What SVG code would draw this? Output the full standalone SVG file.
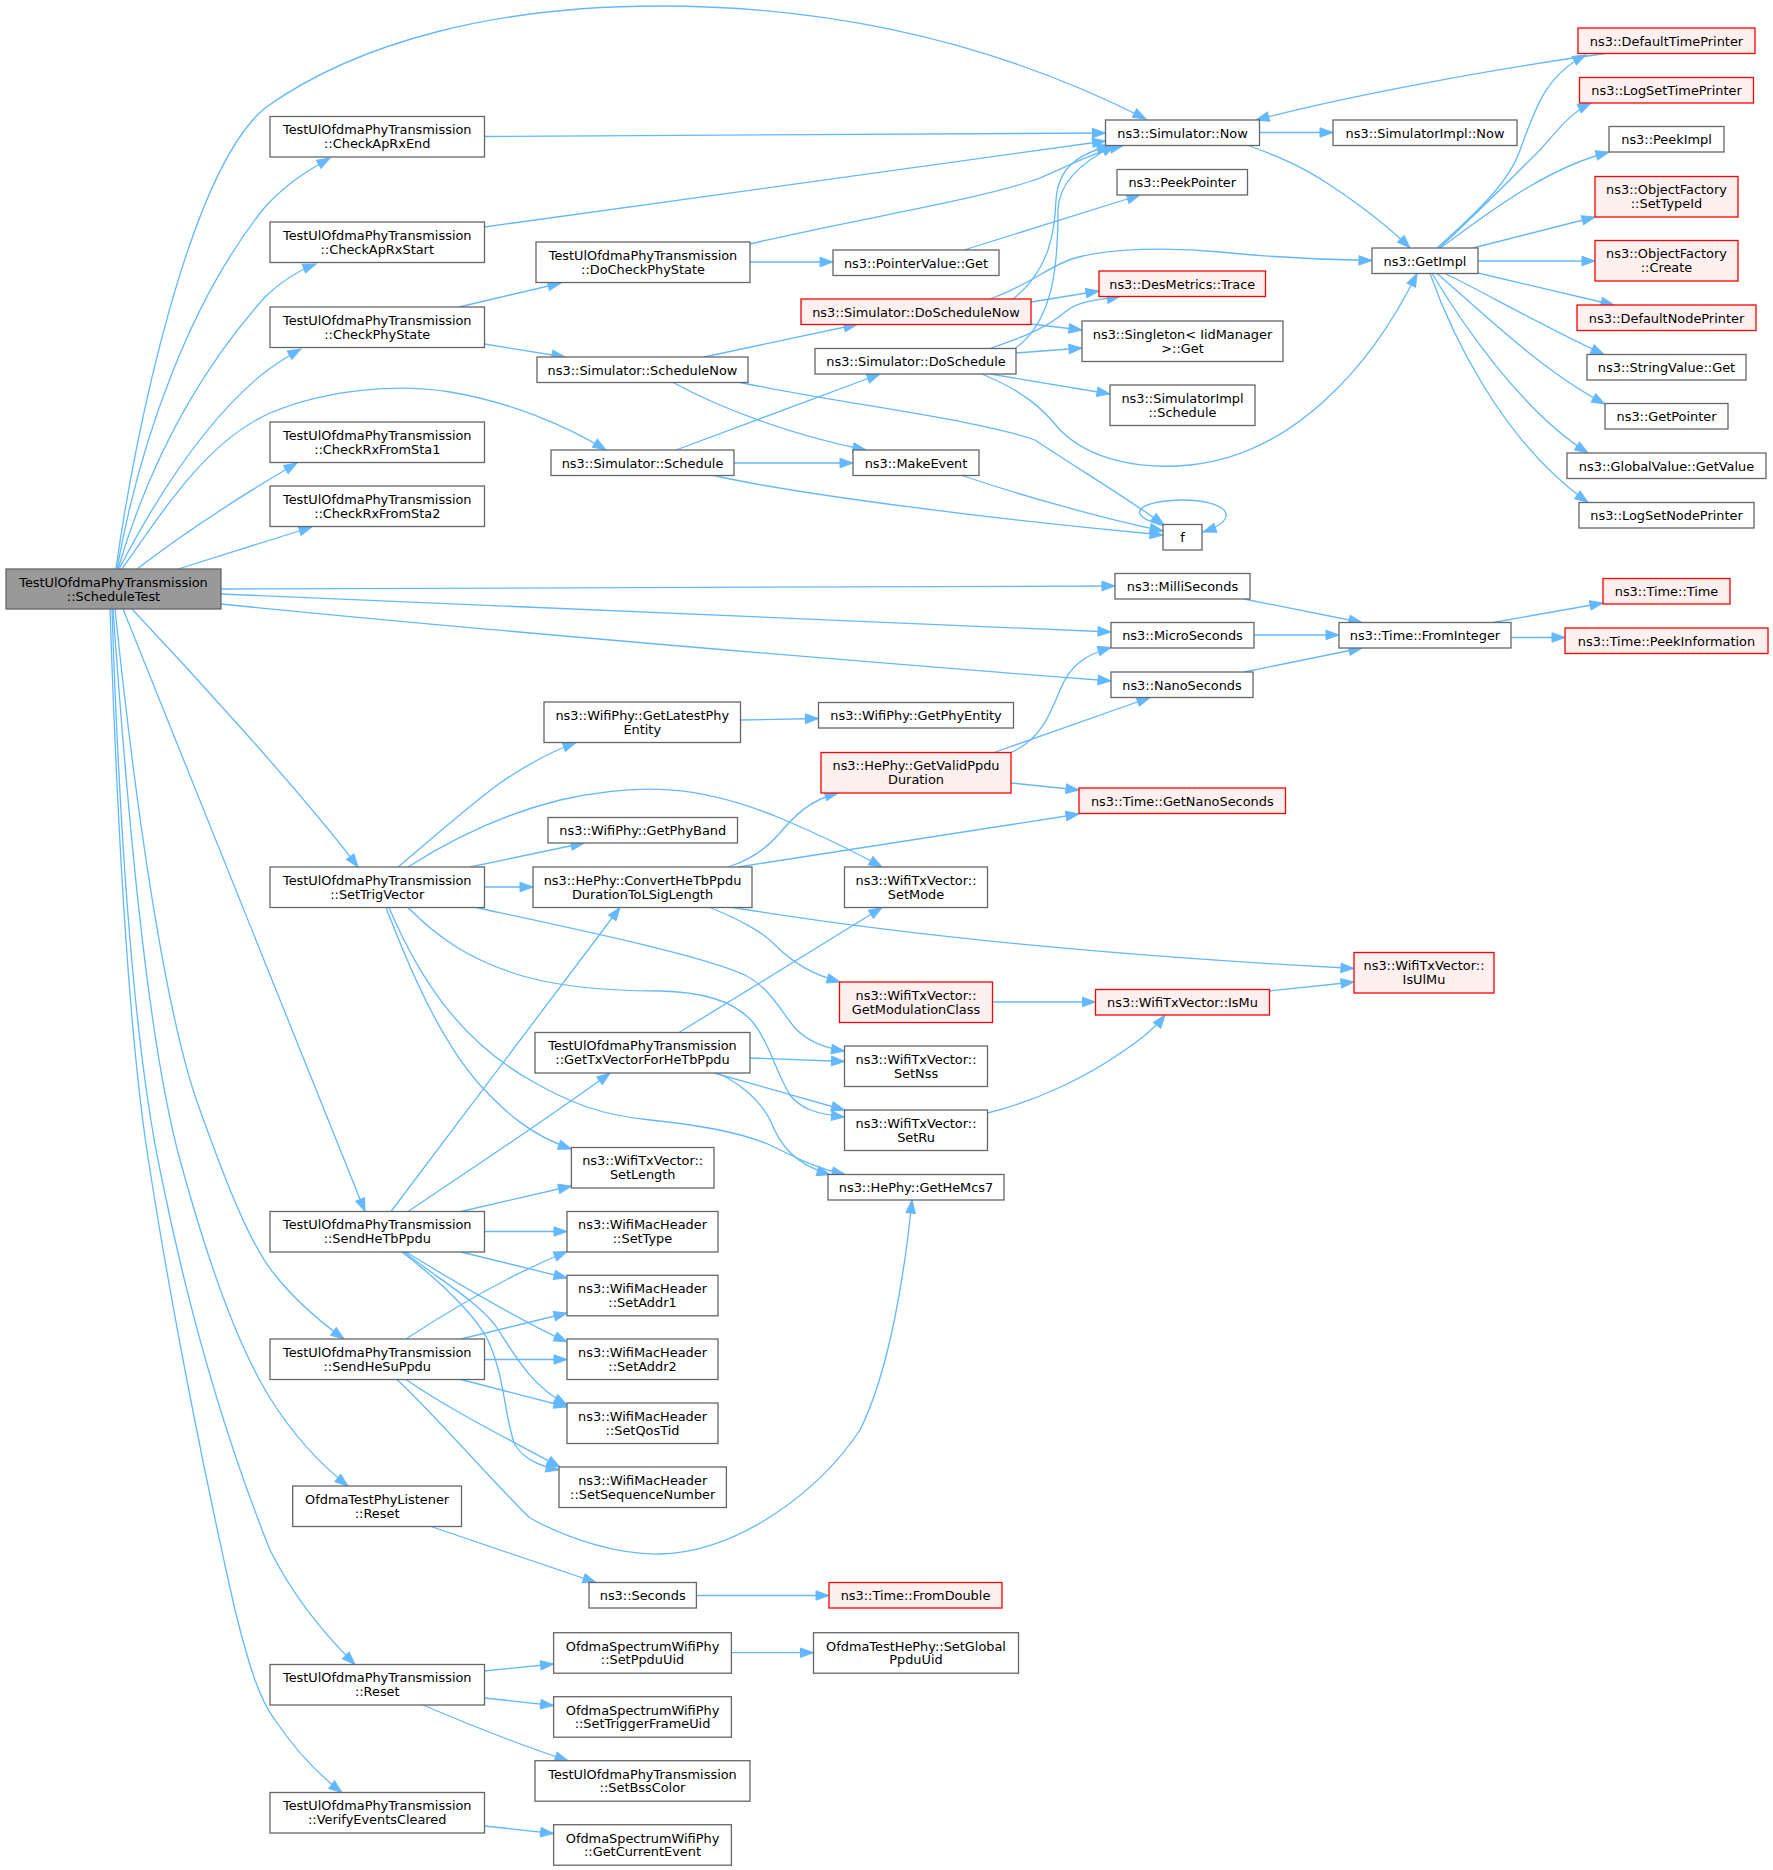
<svg xmlns="http://www.w3.org/2000/svg" width="1773" height="1870" viewBox="0 0 1773 1870">
<style>
.n rect{fill:#ffffff;stroke:#666666;stroke-width:1.3}
.r rect{fill:#fff0f0;stroke:#ff0000;stroke-width:1.3}
.root rect{fill:#999999;stroke:#666666;stroke-width:1.3}
text{font-family:"DejaVu Sans","Liberation Sans",sans-serif;font-size:12.9px;text-anchor:middle;fill:#000000}
#edges path{fill:none;stroke:#63b8ff;stroke-width:1.3;marker-end:url(#a)}
</style>
<defs>
<marker id="a" markerUnits="userSpaceOnUse" markerWidth="14" markerHeight="10" refX="13" refY="4.7" orient="auto" overflow="visible">
<path d="M0,0 L13,4.7 L0,9.4 z" fill="#63b8ff" stroke="#63b8ff" stroke-width="1"/>
</marker>
</defs>
<rect width="1773" height="1870" fill="#ffffff"/>
<g id="edges">
<path d="M116,569 C135,430 190,170 265,108 C360,40 500,6 660,6 C850,6 1010,50 1146,119"/>
<path d="M117,569 C140,440 190,300 265,207 C285,185 305,172 330,158"/>
<path d="M118,569 C150,460 200,370 265,297 C280,282 295,272 316,264"/>
<path d="M119,569 C155,500 205,420 265,372 C276,364 288,356 301,349"/>
<path d="M122,569 C170,500 210,440 270,413 C330,388 400,384 450,392 C510,402 565,425 606,450"/>
<path d="M137,569 C175,540 225,505 297,463"/>
<path d="M178,569 L312,527"/>
<path d="M221,589 L1115,586"/>
<path d="M221,594 L1111,632"/>
<path d="M221,604 C500,632 900,665 1111,681"/>
<path d="M132,609 C180,660 300,790 358,867"/>
<path d="M123,609 L365,1211.5"/>
<path d="M115,609 C140,850 170,1030 200,1110 C225,1180 250,1245 275,1275 C295,1300 315,1318 344,1339"/>
<path d="M113,609 C130,850 150,1050 180,1160 C210,1270 240,1350 270,1398 C290,1430 315,1460 348,1486"/>
<path d="M112,609 C120,850 135,1050 160,1170 C190,1320 230,1450 270,1550 C290,1590 320,1630 355,1664.5"/>
<path d="M110,609 C118,850 130,1050 150,1170 C175,1330 210,1500 235,1610 C250,1670 260,1700 275,1720 C292,1745 315,1772 342,1792.5"/>
<path d="M484.5,136.5 L1105.5,133"/>
<path d="M484.5,227 L1105.5,141"/>
<path d="M459,307 L561,283"/>
<path d="M484.5,344 L565,357"/>
<path d="M750,244 C850,220 980,200 1040,178 C1070,165 1095,152 1123,145.5"/>
<path d="M750,262 L833,262"/>
<path d="M964,250 L1140,195"/>
<path d="M704,357 L857,324.5"/>
<path d="M673,382.5 C720,408 790,435 866,450"/>
<path d="M740,382.5 C850,405 980,420 1035,440 C1080,470 1130,500 1164,525"/>
<path d="M676,450 L880,374"/>
<path d="M734,463 L853,463"/>
<path d="M714,475.5 C800,495 1000,520 1163,535"/>
<path d="M962,475.5 C1020,495 1100,518 1163,531"/>
<path d="M1165,526 C1120,515 1140,500 1183,500 C1225,500 1245,518 1203,532"/>
<path d="M1013,299 C1050,270 1055,230 1056,200 C1058,170 1075,155 1110,145.5"/>
<path d="M1015,348.5 C1055,320 1058,260 1058,210 C1059,180 1085,160 1115,145.5"/>
<path d="M990,299 C1030,285 1050,265 1075,258 C1110,248 1170,247 1220,252 C1280,258 1330,260 1372,260.5"/>
<path d="M1031,302 L1099,291"/>
<path d="M1031,324 L1082,330"/>
<path d="M990,348.5 C1030,335 1050,325 1065,312 C1080,300 1100,300 1120,296.5"/>
<path d="M1016,353 L1082,348"/>
<path d="M990,374 L1110,394"/>
<path d="M982,374 C1020,390 1040,405 1060,430 C1090,460 1140,470 1190,465 C1290,455 1370,370 1417,273.5"/>
<path d="M1259,132.5 L1333,132.5"/>
<path d="M1248,145.5 C1275,155 1300,165 1330,185 C1360,205 1390,228 1410,248"/>
<path d="M1605,53.5 C1500,68 1350,95 1256,120"/>
<path d="M1437,248 C1480,210 1510,180 1520,150 C1535,110 1545,75 1586,55"/>
<path d="M1439,248 C1470,220 1510,180 1540,150 C1560,127 1572,112 1591,103"/>
<path d="M1440,248 C1480,220 1540,170 1609,152"/>
<path d="M1473,248 L1595,217"/>
<path d="M1478,261 L1595,261"/>
<path d="M1478,273 L1614,305"/>
<path d="M1445,273.5 C1480,290 1540,325 1604,354.5"/>
<path d="M1437,273.5 C1480,310 1540,370 1605,404"/>
<path d="M1432,273.5 C1460,320 1520,410 1588,453"/>
<path d="M1430,273.5 C1450,330 1500,440 1588,502.5"/>
<path d="M1244,599 L1362,622.5"/>
<path d="M1254,635 L1339,635"/>
<path d="M1244,672 L1362,648"/>
<path d="M1493,622.5 L1603,603"/>
<path d="M1511,637.5 L1565,637.5"/>
<path d="M398,867 C430,840 470,805 500,783 C525,766 550,752 576,742.5"/>
<path d="M408,867 C450,840 500,815 560,800 C640,782 700,785 780,818 C820,835 855,852 882,867"/>
<path d="M470,867 L584,843"/>
<path d="M484.5,887 L533,887"/>
<path d="M476,907.5 C580,930 700,955 745,975 C770,988 780,1010 795,1028 C808,1042 825,1048 844.5,1051"/>
<path d="M408,907.5 C440,940 470,958 510,972 C550,986 600,991 660,991 C710,992 740,1005 755,1025 C770,1045 775,1070 790,1095 C800,1108 815,1114 844.5,1117"/>
<path d="M386,907.5 C410,970 440,1040 480,1085 C505,1112 530,1135 571.4,1149"/>
<path d="M389,907.5 C420,980 460,1040 530,1080 C570,1103 600,1115 650,1120 C700,1125 740,1132 770,1145 C795,1157 815,1168 845,1174.5"/>
<path d="M728,867 C750,860 765,850 778,835 C795,815 810,800 838,793"/>
<path d="M738,867 L1079,814"/>
<path d="M710,907.5 C740,920 760,930 775,945 C795,965 815,975 840,982"/>
<path d="M733,907.5 C900,935 1100,955 1354,968.5"/>
<path d="M1011,752.5 C1040,740 1050,715 1060,690 C1070,665 1085,655 1111,647.5"/>
<path d="M994,752.5 L1150,697.5"/>
<path d="M1011,783 L1079,790"/>
<path d="M992,1002 L1095.5,1002"/>
<path d="M1269.5,991 L1354,982"/>
<path d="M987.5,1113 C1040,1100 1090,1075 1125,1050 C1140,1040 1155,1028 1165,1015"/>
<path d="M679,1032.5 L882,907.5"/>
<path d="M750,1058 L844.5,1061.5"/>
<path d="M714,1073 L844.5,1110"/>
<path d="M717,1073 C740,1083 760,1100 770,1120 C780,1145 795,1165 830,1174.5"/>
<path d="M740.5,720 L818.5,718.5"/>
<path d="M391,1211.5 L620,907.5"/>
<path d="M408,1211.5 C470,1170 560,1110 610,1073"/>
<path d="M461,1211.5 L571.4,1186"/>
<path d="M484.5,1231.5 L567,1231.5"/>
<path d="M461,1252 L567,1278"/>
<path d="M406,1252 C460,1285 520,1320 567,1342"/>
<path d="M404,1252 C440,1280 475,1300 495,1325 C515,1355 530,1385 567,1405"/>
<path d="M402,1252 C445,1285 480,1320 490,1345 C505,1380 505,1420 515,1445 C525,1460 540,1466 559,1470"/>
<path d="M406,1339 C450,1310 510,1275 567,1251.5"/>
<path d="M461,1339 L567,1313"/>
<path d="M484.5,1359.5 L567,1359.5"/>
<path d="M461,1379.5 L567,1407"/>
<path d="M406,1379.5 C450,1410 510,1440 560,1467"/>
<path d="M397,1379.5 C440,1420 500,1490 530,1518 C570,1540 620,1555 660,1554 C740,1552 820,1490 860,1430 C890,1370 905,1270 912,1200"/>
<path d="M431,1526.5 L596,1582.5"/>
<path d="M696.4,1595.5 L829,1595.5"/>
<path d="M484.5,1671 L553.6,1664"/>
<path d="M484.5,1698 L553.6,1705.5"/>
<path d="M423,1705 C470,1725 520,1745 568,1760.7"/>
<path d="M731.4,1652.7 L813.5,1652.7"/>
<path d="M484.5,1826 L553.6,1833.5"/>
</g>
<g id="nodes">
<g id="n_root" class="root"><rect x="6" y="569" width="215" height="40"/><text x="113.5" y="586.8">TestUlOfdmaPhyTransmission</text><text x="113.5" y="600.7">::ScheduleTest</text></g>
<g id="n_checkaprxend" class="n"><rect x="270" y="116.5" width="214.5" height="40.5"/><text x="377.25" y="134.3">TestUlOfdmaPhyTransmission</text><text x="377.25" y="148.2">::CheckApRxEnd</text></g>
<g id="n_checkaprxstart" class="n"><rect x="270" y="222" width="214.5" height="40.5"/><text x="377.25" y="239.8">TestUlOfdmaPhyTransmission</text><text x="377.25" y="253.7">::CheckApRxStart</text></g>
<g id="n_checkphystate" class="n"><rect x="270" y="307" width="214.5" height="40.5"/><text x="377.25" y="324.8">TestUlOfdmaPhyTransmission</text><text x="377.25" y="338.7">::CheckPhyState</text></g>
<g id="n_checkrx1" class="n"><rect x="270" y="422" width="214.5" height="40.5"/><text x="377.25" y="439.8">TestUlOfdmaPhyTransmission</text><text x="377.25" y="453.7">::CheckRxFromSta1</text></g>
<g id="n_checkrx2" class="n"><rect x="270" y="486" width="214.5" height="40.5"/><text x="377.25" y="503.8">TestUlOfdmaPhyTransmission</text><text x="377.25" y="517.7">::CheckRxFromSta2</text></g>
<g id="n_settrigvector" class="n"><rect x="270" y="867" width="214.5" height="40.5"/><text x="377.25" y="884.8">TestUlOfdmaPhyTransmission</text><text x="377.25" y="898.7">::SetTrigVector</text></g>
<g id="n_sendhetb" class="n"><rect x="270" y="1211.5" width="214.5" height="40.5"/><text x="377.25" y="1229.3">TestUlOfdmaPhyTransmission</text><text x="377.25" y="1243.2">::SendHeTbPpdu</text></g>
<g id="n_sendhesu" class="n"><rect x="270" y="1339" width="214.5" height="40.5"/><text x="377.25" y="1356.8">TestUlOfdmaPhyTransmission</text><text x="377.25" y="1370.7">::SendHeSuPpdu</text></g>
<g id="n_listenerreset" class="n"><rect x="292.7" y="1486" width="168.8" height="40.5"/><text x="377.1" y="1503.8">OfdmaTestPhyListener</text><text x="377.1" y="1517.7">::Reset</text></g>
<g id="n_reset" class="n"><rect x="270" y="1664.5" width="214.5" height="40.5"/><text x="377.25" y="1682.3">TestUlOfdmaPhyTransmission</text><text x="377.25" y="1696.2">::Reset</text></g>
<g id="n_verify" class="n"><rect x="270" y="1792.5" width="214.5" height="40.5"/><text x="377.25" y="1810.3">TestUlOfdmaPhyTransmission</text><text x="377.25" y="1824.2">::VerifyEventsCleared</text></g>
<g id="n_docheckphystate" class="n"><rect x="536" y="242" width="214" height="40.5"/><text x="643" y="259.8">TestUlOfdmaPhyTransmission</text><text x="643" y="273.7">::DoCheckPhyState</text></g>
<g id="n_schedulenow" class="n"><rect x="537" y="357" width="211" height="25.5"/><text x="642.5" y="374.5">ns3::Simulator::ScheduleNow</text></g>
<g id="n_schedule" class="n"><rect x="551" y="450" width="183" height="25.5"/><text x="642.5" y="467.5">ns3::Simulator::Schedule</text></g>
<g id="n_getlatestphyentity" class="n"><rect x="544" y="702" width="196.5" height="40.5"/><text x="642.25" y="719.8">ns3::WifiPhy::GetLatestPhy</text><text x="642.25" y="733.7">Entity</text></g>
<g id="n_getphyband" class="n"><rect x="548" y="817.5" width="189.5" height="25.5"/><text x="642.75" y="835">ns3::WifiPhy::GetPhyBand</text></g>
<g id="n_convert" class="n"><rect x="533" y="867" width="219" height="40.5"/><text x="642.5" y="884.8">ns3::HePhy::ConvertHeTbPpdu</text><text x="642.5" y="898.7">DurationToLSigLength</text></g>
<g id="n_gettxvector" class="n"><rect x="535" y="1032.5" width="215" height="40.5"/><text x="642.5" y="1050.3">TestUlOfdmaPhyTransmission</text><text x="642.5" y="1064.2">::GetTxVectorForHeTbPpdu</text></g>
<g id="n_setlength" class="n"><rect x="571.4" y="1147.5" width="142.6" height="40.5"/><text x="642.7" y="1165.3">ns3::WifiTxVector::</text><text x="642.7" y="1179.2">SetLength</text></g>
<g id="n_settype" class="n"><rect x="567" y="1211.5" width="151" height="40.5"/><text x="642.5" y="1229.3">ns3::WifiMacHeader</text><text x="642.5" y="1243.2">::SetType</text></g>
<g id="n_setaddr1" class="n"><rect x="567" y="1275.3" width="151" height="40.5"/><text x="642.5" y="1293.1">ns3::WifiMacHeader</text><text x="642.5" y="1307">::SetAddr1</text></g>
<g id="n_setaddr2" class="n"><rect x="567" y="1339" width="151" height="40.5"/><text x="642.5" y="1356.8">ns3::WifiMacHeader</text><text x="642.5" y="1370.7">::SetAddr2</text></g>
<g id="n_setqostid" class="n"><rect x="567" y="1403" width="151" height="40.5"/><text x="642.5" y="1420.8">ns3::WifiMacHeader</text><text x="642.5" y="1434.7">::SetQosTid</text></g>
<g id="n_setseqnum" class="n"><rect x="559" y="1467" width="167.4" height="40.5"/><text x="642.7" y="1484.8">ns3::WifiMacHeader</text><text x="642.7" y="1498.7">::SetSequenceNumber</text></g>
<g id="n_seconds" class="n"><rect x="589" y="1582.5" width="107.4" height="25.5"/><text x="642.7" y="1600">ns3::Seconds</text></g>
<g id="n_setppduuid" class="n"><rect x="553.6" y="1632.7" width="177.8" height="40.5"/><text x="642.5" y="1650.5">OfdmaSpectrumWifiPhy</text><text x="642.5" y="1664.4">::SetPpduUid</text></g>
<g id="n_settriggerframeuid" class="n"><rect x="553.6" y="1696.7" width="177.8" height="40.5"/><text x="642.5" y="1714.5">OfdmaSpectrumWifiPhy</text><text x="642.5" y="1728.4">::SetTriggerFrameUid</text></g>
<g id="n_setbsscolor" class="n"><rect x="535" y="1760.7" width="215" height="40.5"/><text x="642.5" y="1778.5">TestUlOfdmaPhyTransmission</text><text x="642.5" y="1792.4">::SetBssColor</text></g>
<g id="n_getcurrentevent" class="n"><rect x="553.6" y="1824.7" width="177.8" height="40.5"/><text x="642.5" y="1842.5">OfdmaSpectrumWifiPhy</text><text x="642.5" y="1856.4">::GetCurrentEvent</text></g>
<g id="n_pointervalueget" class="n"><rect x="833" y="250" width="166" height="25.5"/><text x="916" y="267.5">ns3::PointerValue::Get</text></g>
<g id="n_doschedulenow" class="r"><rect x="801" y="299" width="230" height="25.5"/><text x="916" y="316.5">ns3::Simulator::DoScheduleNow</text></g>
<g id="n_doschedule" class="n"><rect x="815" y="348.5" width="201" height="25.5"/><text x="916" y="366">ns3::Simulator::DoSchedule</text></g>
<g id="n_makeevent" class="n"><rect x="853" y="450" width="126" height="25.5"/><text x="916" y="467.5">ns3::MakeEvent</text></g>
<g id="n_getphyentity" class="n"><rect x="818.5" y="702.5" width="195" height="25.5"/><text x="916" y="720">ns3::WifiPhy::GetPhyEntity</text></g>
<g id="n_getvalidppdu" class="r"><rect x="821" y="752.5" width="190" height="40.5"/><text x="916" y="770.3">ns3::HePhy::GetValidPpdu</text><text x="916" y="784.2">Duration</text></g>
<g id="n_setmode" class="n"><rect x="844.5" y="867" width="143" height="40.5"/><text x="916" y="884.8">ns3::WifiTxVector::</text><text x="916" y="898.7">SetMode</text></g>
<g id="n_getmodclass" class="r"><rect x="839.5" y="982" width="153" height="40.5"/><text x="916" y="999.8">ns3::WifiTxVector::</text><text x="916" y="1013.7">GetModulationClass</text></g>
<g id="n_setnss" class="n"><rect x="844.5" y="1046" width="143" height="40.5"/><text x="916" y="1063.8">ns3::WifiTxVector::</text><text x="916" y="1077.7">SetNss</text></g>
<g id="n_setru" class="n"><rect x="844.5" y="1110" width="143" height="40.5"/><text x="916" y="1127.8">ns3::WifiTxVector::</text><text x="916" y="1141.7">SetRu</text></g>
<g id="n_gethemcs7" class="n"><rect x="828" y="1174.5" width="176" height="25.5"/><text x="916" y="1192">ns3::HePhy::GetHeMcs7</text></g>
<g id="n_fromdouble" class="r"><rect x="829" y="1582.5" width="173" height="25.5"/><text x="915.5" y="1600">ns3::Time::FromDouble</text></g>
<g id="n_setglobalppduuid" class="n"><rect x="813.5" y="1632.7" width="205" height="40.5"/><text x="916" y="1650.5">OfdmaTestHePhy::SetGlobal</text><text x="916" y="1664.4">PpduUid</text></g>
<g id="n_now" class="n"><rect x="1105.5" y="120" width="154" height="25.5"/><text x="1182.5" y="137.5">ns3::Simulator::Now</text></g>
<g id="n_peekpointer" class="n"><rect x="1117" y="169.5" width="130.5" height="25.5"/><text x="1182.25" y="187">ns3::PeekPointer</text></g>
<g id="n_trace" class="r"><rect x="1099" y="271" width="166.5" height="25.5"/><text x="1182.25" y="288.5">ns3::DesMetrics::Trace</text></g>
<g id="n_singleton" class="n"><rect x="1082" y="321" width="201" height="40.5"/><text x="1182.5" y="338.8">ns3::Singleton&lt; IidManager</text><text x="1182.5" y="352.7">&gt;::Get</text></g>
<g id="n_simimplschedule" class="n"><rect x="1110" y="385" width="145" height="40.5"/><text x="1182.5" y="402.8">ns3::SimulatorImpl</text><text x="1182.5" y="416.7">::Schedule</text></g>
<g id="n_f" class="n"><rect x="1163" y="524.5" width="39" height="25.5"/><text x="1182.5" y="542">f</text></g>
<g id="n_milliseconds" class="n"><rect x="1115" y="573.5" width="135" height="25.5"/><text x="1182.5" y="591">ns3::MilliSeconds</text></g>
<g id="n_microseconds" class="n"><rect x="1111" y="622.5" width="143" height="25.5"/><text x="1182.5" y="640">ns3::MicroSeconds</text></g>
<g id="n_nanoseconds" class="n"><rect x="1111" y="672" width="142" height="25.5"/><text x="1182" y="689.5">ns3::NanoSeconds</text></g>
<g id="n_getnanoseconds" class="r"><rect x="1079" y="788" width="206.5" height="25.5"/><text x="1182.25" y="805.5">ns3::Time::GetNanoSeconds</text></g>
<g id="n_ismu" class="r"><rect x="1095.5" y="989.5" width="174" height="25.5"/><text x="1182.5" y="1007">ns3::WifiTxVector::IsMu</text></g>
<g id="n_simimplnow" class="n"><rect x="1333" y="120" width="184" height="25.5"/><text x="1425" y="137.5">ns3::SimulatorImpl::Now</text></g>
<g id="n_getimpl" class="n"><rect x="1372" y="248" width="106" height="25.5"/><text x="1425" y="265.5">ns3::GetImpl</text></g>
<g id="n_frominteger" class="n"><rect x="1339" y="622.5" width="172" height="25.5"/><text x="1425" y="640">ns3::Time::FromInteger</text></g>
<g id="n_isulmu" class="r"><rect x="1354" y="952.5" width="140" height="40.5"/><text x="1424" y="970.3">ns3::WifiTxVector::</text><text x="1424" y="984.2">IsUlMu</text></g>
<g id="n_defaulttimeprinter" class="r"><rect x="1578" y="28" width="177" height="25.5"/><text x="1666.5" y="45.5">ns3::DefaultTimePrinter</text></g>
<g id="n_logsettimeprinter" class="r"><rect x="1579.5" y="77.5" width="174" height="25.5"/><text x="1666.5" y="95">ns3::LogSetTimePrinter</text></g>
<g id="n_peekimpl" class="n"><rect x="1609" y="126.5" width="115" height="25.5"/><text x="1666.5" y="144">ns3::PeekImpl</text></g>
<g id="n_settypeid" class="r"><rect x="1595" y="176.5" width="143" height="40.5"/><text x="1666.5" y="194.3">ns3::ObjectFactory</text><text x="1666.5" y="208.2">::SetTypeId</text></g>
<g id="n_create" class="r"><rect x="1595" y="240.5" width="143" height="40.5"/><text x="1666.5" y="258.3">ns3::ObjectFactory</text><text x="1666.5" y="272.2">::Create</text></g>
<g id="n_defaultnodeprinter" class="r"><rect x="1577" y="305" width="179" height="25.5"/><text x="1666.5" y="322.5">ns3::DefaultNodePrinter</text></g>
<g id="n_stringvalueget" class="n"><rect x="1587" y="354.5" width="159" height="25.5"/><text x="1666.5" y="372">ns3::StringValue::Get</text></g>
<g id="n_getpointer" class="n"><rect x="1605" y="403.5" width="123" height="25.5"/><text x="1666.5" y="421">ns3::GetPointer</text></g>
<g id="n_globalvalue" class="n"><rect x="1567" y="453" width="199" height="25.5"/><text x="1666.5" y="470.5">ns3::GlobalValue::GetValue</text></g>
<g id="n_logsetnodeprinter" class="n"><rect x="1579" y="502.5" width="175" height="25.5"/><text x="1666.5" y="520">ns3::LogSetNodePrinter</text></g>
<g id="n_timetime" class="r"><rect x="1603" y="578.5" width="127" height="25.5"/><text x="1666.5" y="596">ns3::Time::Time</text></g>
<g id="n_peekinformation" class="r"><rect x="1565" y="628" width="203" height="25.5"/><text x="1666.5" y="645.5">ns3::Time::PeekInformation</text></g>
</g>
</svg>
